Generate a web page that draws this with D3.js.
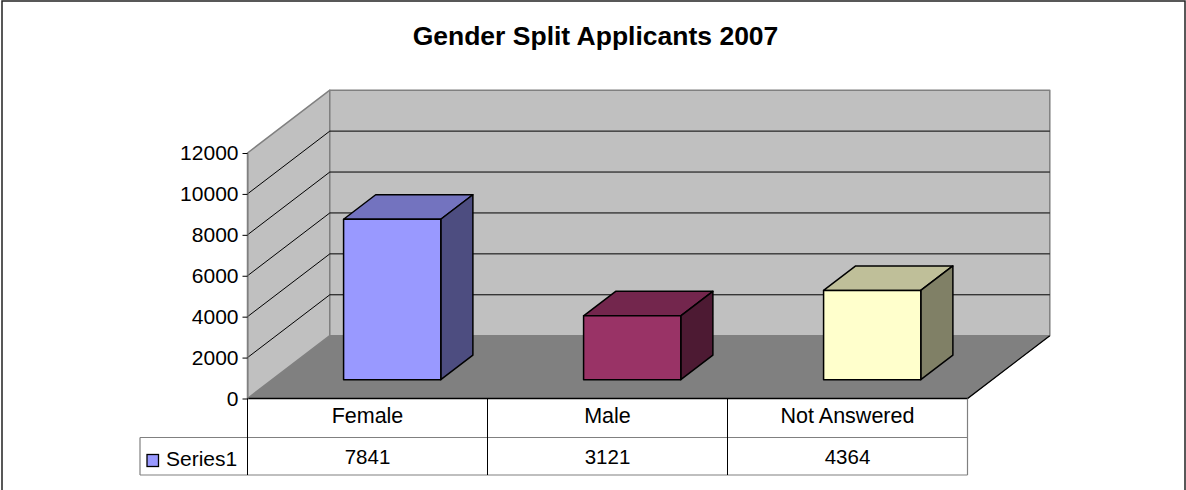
<!DOCTYPE html>
<html>
<head>
<meta charset="utf-8">
<script src="https://d3js.org/d3.v7.min.js"></script>
<style>
  html, body { margin: 0; padding: 0; background: #fff; overflow: hidden; }
  svg { display: block; }
  text { font-family: "Liberation Sans", Arial, sans-serif; fill: #000; }
</style>
</head>
<body>
<div id="chart"></div>
<script>
// Chart data
var categories = ["Female", "Male", "Not Answered"];
var seriesName = "Series1";
var seriesValues = [7841, 3121, 4364];
var yTicks = [0, 2000, 4000, 6000, 8000, 10000, 12000];
var barColors = ["#9999ff", "#993366", "#ffffcc"];
var chartTitle = "Gender Split Applicants 2007";

var svgWidth = 1186;
var svgHeight = 490;

// Front plane of the 3D box
var plot = { left: 247.5, right: 967.5, top: 153, bottom: 398.5 };
// Offset of the back wall from the front plane
var depth = { x: 82.3, y: -62.8 };
// Where the bars start and end along the depth (0 = front, 1 = back)
var barFront = 0.3;
var barBack = 0.69;

var svg = d3
  .select("#chart")
  .append("svg")
  .attr("width", svgWidth)
  .attr("height", svgHeight);

var xScale = d3
  .scaleBand()
  .domain(categories)
  .range([plot.left, plot.right])
  .paddingInner(0.595)
  .paddingOuter(0.2975);

var yScale = d3
  .scaleLinear()
  .domain([0, 12000])
  .range([plot.bottom, plot.top]);

// Oblique projection, x and y in pixels, z from 0 to 1
function project(x, y, z) {
  return [x + depth.x * z, y + depth.y * z];
}

// Excel style shading of the bar faces
function shade(color, k) {
  var c = d3.rgb(color);
  return d3.rgb(c.r * k, c.g * k, c.b * k).formatHex();
}

var poly = d3.line().curve(d3.curveLinearClosed);
var gridLine = d3.line();

function drawFace(pts, fill, stroke, width) {
  svg
    .append("path")
    .attr("d", poly(pts))
    .attr("fill", fill)
    .attr("stroke", stroke)
    .attr("stroke-width", width)
    .attr("stroke-linejoin", "round");
}

// Outer frame, its bottom edge is cut off by the picture
svg
  .append("rect")
  .attr("x", 2)
  .attr("y", 1)
  .attr("width", 1183)
  .attr("height", 500)
  .attr("fill", "#fff")
  .attr("stroke", "#222")
  .attr("stroke-width", 1.5);

// Title
svg
  .append("text")
  .attr("x", 595.5)
  .attr("y", 45)
  .attr("text-anchor", "middle")
  .attr("font-size", 26.5)
  .attr("font-weight", "bold")
  .text(chartTitle);

var y0 = yScale(0);
var yMax = yScale(12000);

// Floor
drawFace(
  [
    project(plot.left, y0, 0),
    project(plot.right, y0, 0),
    project(plot.right, y0, 1),
    project(plot.left, y0, 1)
  ],
  "#808080",
  "#808080",
  1
);

// Side wall
drawFace(
  [
    project(plot.left, y0, 0),
    project(plot.left, y0, 1),
    project(plot.left, yMax, 1),
    project(plot.left, yMax, 0)
  ],
  "#c0c0c0",
  "#808080",
  1.5
);

// Back wall
drawFace(
  [
    project(plot.left, y0, 1),
    project(plot.right, y0, 1),
    project(plot.right, yMax, 1),
    project(plot.left, yMax, 1)
  ],
  "#c0c0c0",
  "#808080",
  1.5
);

// Gridlines on both walls
var gridTicks = yTicks.filter(d => d > 0 && d < 12000);
gridTicks.forEach(function(t) {
  svg
    .append("path")
    .attr("d", gridLine([
      project(plot.left, yScale(t), 0),
      project(plot.left, yScale(t), 1),
      project(plot.right, yScale(t), 1)
    ]))
    .attr("fill", "none")
    .attr("stroke", "#000")
    .attr("stroke-width", 1);
});

// Floor front and right edges
svg
  .append("path")
  .attr("d", gridLine([
    project(plot.left, y0, 0),
    project(plot.right, y0, 0),
    project(plot.right, y0, 1)
  ]))
  .attr("fill", "none")
  .attr("stroke", "#000")
  .attr("stroke-width", 1.3);

// Bars
categories.forEach(function(cat, i) {
  var x0 = xScale(cat);
  var x1 = x0 + xScale.bandwidth();
  var yTop = yScale(seriesValues[i]);

  // top face
  drawFace(
    [
      project(x0, yTop, barFront),
      project(x1, yTop, barFront),
      project(x1, yTop, barBack),
      project(x0, yTop, barBack)
    ],
    shade(barColors[i], 0.75),
    "#000",
    1.5
  );
  // side face
  drawFace(
    [
      project(x1, y0, barFront),
      project(x1, y0, barBack),
      project(x1, yTop, barBack),
      project(x1, yTop, barFront)
    ],
    shade(barColors[i], 0.5),
    "#000",
    1.5
  );
  // front face
  drawFace(
    [
      project(x0, y0, barFront),
      project(x1, y0, barFront),
      project(x1, yTop, barFront),
      project(x0, yTop, barFront)
    ],
    barColors[i],
    "#000",
    1.5
  );
});

// Y axis
var leftAxis = d3
  .axisLeft(yScale)
  .tickValues(yTicks)
  .tickFormat(d3.format("d"))
  .tickSize(5)
  .tickSizeOuter(0)
  .tickPadding(4);

var yAxis = svg
  .append("g")
  .attr("transform", `translate(${plot.left}, 0)`)
  .call(leftAxis);

yAxis.selectAll("text").attr("font-size", 21).attr("fill", "#000");
yAxis.selectAll("line").attr("stroke", "#000");
yAxis.select(".domain").attr("stroke", "#808080");

// Data table under the chart
var tableBottom = 475;
var tableLeft = 140;
var rowTop = 437.5;

var greyLines = [
  [[tableLeft, rowTop], [plot.right, rowTop]],
  [[tableLeft, tableBottom], [plot.right, tableBottom]],
  [[tableLeft, rowTop], [tableLeft, tableBottom]],
  [[plot.right, y0], [plot.right, tableBottom]]
];
var blackLines = [
  [[plot.left, y0], [plot.left, tableBottom]],
  [[plot.left + xScale.step(), y0], [plot.left + xScale.step(), tableBottom]],
  [[plot.left + 2 * xScale.step(), y0], [plot.left + 2 * xScale.step(), tableBottom]]
];

svg
  .selectAll("path.grey-line")
  .data(greyLines)
  .enter()
  .append("path")
  .attr("class", "grey-line")
  .attr("d", d => gridLine(d))
  .attr("fill", "none")
  .attr("stroke", "#808080")
  .attr("stroke-width", 1.2);

svg
  .selectAll("path.black-line")
  .data(blackLines)
  .enter()
  .append("path")
  .attr("class", "black-line")
  .attr("d", d => gridLine(d))
  .attr("fill", "none")
  .attr("stroke", "#000")
  .attr("stroke-width", 1);

categories.forEach(function(cat, i) {
  var mid = xScale(cat) + xScale.bandwidth() / 2;
  svg
    .append("text")
    .attr("x", mid)
    .attr("y", 423)
    .attr("text-anchor", "middle")
    .attr("font-size", 21.5)
    .text(cat);
  svg
    .append("text")
    .attr("x", mid)
    .attr("y", 464)
    .attr("text-anchor", "middle")
    .attr("font-size", 20.5)
    .text(seriesValues[i]);
});

// Legend key
svg
  .append("rect")
  .attr("x", 147)
  .attr("y", 454.5)
  .attr("width", 11.5)
  .attr("height", 12)
  .attr("fill", barColors[0])
  .attr("stroke", "#000")
  .attr("stroke-width", 1.3);

svg
  .append("text")
  .attr("x", 166)
  .attr("y", 466)
  .attr("font-size", 21)
  .text(seriesName);
</script>
</body>
</html>
